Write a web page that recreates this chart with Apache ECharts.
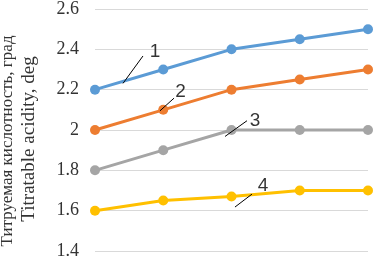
<!DOCTYPE html>
<html><head><meta charset="utf-8">
<script src="https://cdn.jsdelivr.net/npm/echarts@6/dist/echarts.min.js"></script>
<style>html,body{margin:0;padding:0;background:#fff}#c{width:374px;height:260px}</style>
</head><body><div id="c"></div>
<script>
const steps = [0, 1, 2, 3, 4];
const series1 = [2.2, 2.3, 2.4, 2.45, 2.5];
const series2 = [2.0, 2.1, 2.2, 2.25, 2.3];
const series3 = [1.8, 1.9, 2.0, 2.0, 2.0];
const series4 = [1.6, 1.65, 1.67, 1.7, 1.7];
const seriesNames = ['1', '2', '3', '4'];
const yTicks = [1.4, 1.6, 1.8, 2.0, 2.2, 2.4, 2.6];
const yTitle1 = 'Титруемая кислотность, град';
const yTitle2 = 'Titratable acidity, deg';
// annotation anchors in data units: label position and leader line ends
const labelPos = [[0.879, 2.386], [1.253, 2.192], [2.344, 2.046], [2.462, 1.725]];
const leaderLines = [
  [[0.703, 2.367], [0.410, 2.231]],
  [[1.158, 2.158], [0.952, 2.095]],
  [[2.227, 2.046], [1.905, 1.968]],
  [[2.300, 1.682], [2.051, 1.618]]
];
const colors = ['#5B9BD5', '#ED7D31', '#A5A5A5', '#FFC000'];
const all = [series1, series2, series3, series4];

const chart = echarts.init(document.getElementById('c'));
const lineSeries = all.map((arr, i) => ({
  type: 'line',
  name: seriesNames[i],
  data: arr.map((v, j) => [steps[j], v]),
  symbol: 'circle',
  symbolSize: 10,
  lineStyle: {width: 3, color: colors[i]},
  itemStyle: {color: colors[i]},
  z: 3
}));
chart.setOption({
  animation: false,
  grid: {left: 95, right: 6, top: 6, bottom: 7},
  xAxis: {type: 'value', min: 0, max: 4, show: false},
  yAxis: {
    type: 'value', min: yTicks[0], max: yTicks[yTicks.length - 1], interval: 0.2,
    axisLine: {show: false}, axisTick: {show: false},
    axisLabel: {fontFamily: 'Liberation Serif', fontSize: 18, color: '#333', margin: 16,
      formatter: v => String(Math.round(v * 10) / 10)},
    splitLine: {lineStyle: {color: '#D9D9D9', width: 1}}
  },
  series: lineSeries.concat([
    {
      type: 'lines', coordinateSystem: 'cartesian2d', silent: true,
      data: leaderLines.map(c => ({coords: c})),
      lineStyle: {color: '#000', width: 1, opacity: 1}, z: 5
    },
    {
      type: 'scatter', symbol: 'circle', symbolSize: 2, silent: true,
      itemStyle: {color: 'rgba(0,0,0,0)'},
      data: labelPos.map((p, i) => ({value: p, name: seriesNames[i]})),
      label: {show: true, position: 'inside', formatter: '{b}', fontFamily: 'Liberation Sans', fontSize: 19, color: '#000'},
      z: 6
    }
  ]),
  graphic: [
    {type: 'text', x: 8, y: 141, rotation: Math.PI / 2,
      style: {text: yTitle1, font: '17px "Liberation Serif"', fill: '#333', align: 'center', verticalAlign: 'middle'}},
    {type: 'text', x: 29, y: 139, rotation: Math.PI / 2,
      style: {text: yTitle2, font: '19px "Liberation Serif"', fill: '#333', align: 'center', verticalAlign: 'middle'}}
  ]
});
</script></body></html>
